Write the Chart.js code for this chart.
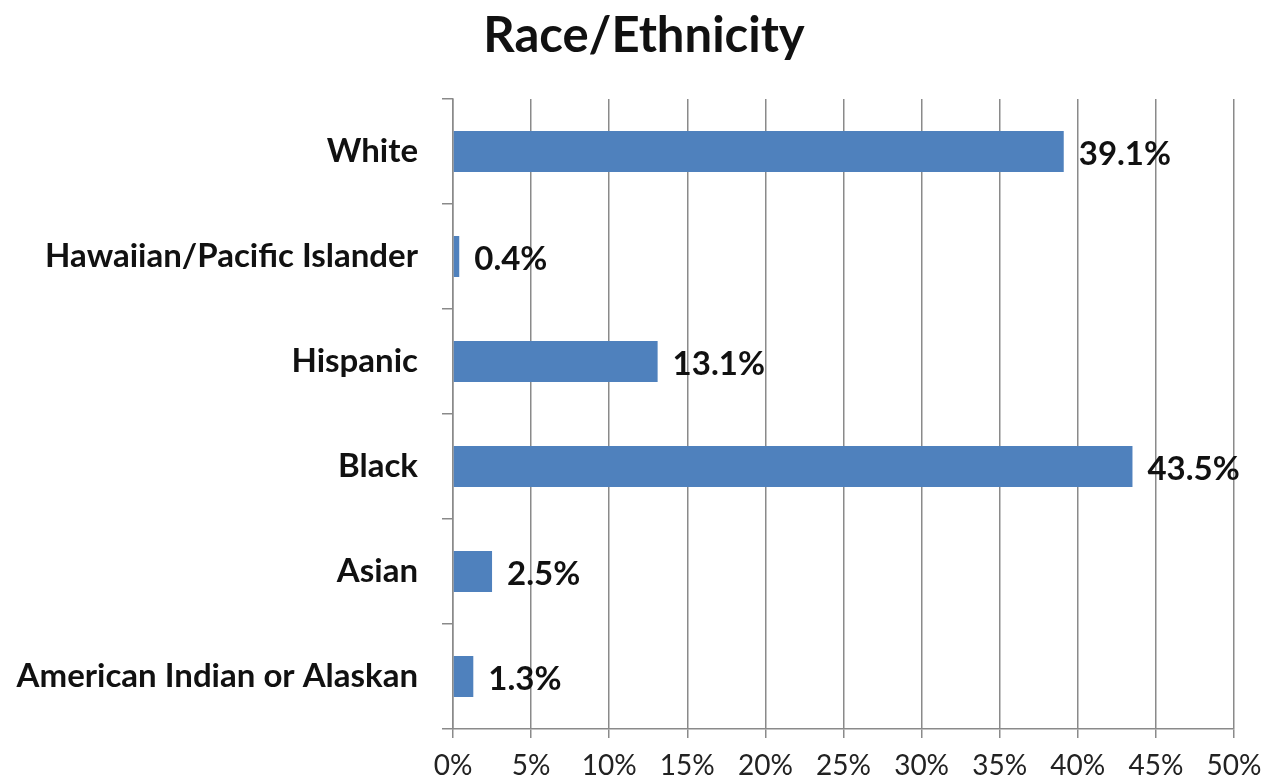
<!DOCTYPE html>
<html>
<head>
<meta charset="utf-8">
<script src="https://cdn.jsdelivr.net/npm/chart.js@4"></script>
<style>
  html, body { margin: 0; padding: 0; background: #fff; }
  #wrap { width: 1263px; height: 779px; }
</style>
</head>
<body>
<div id="wrap"><canvas id="chart" width="1263" height="779"></canvas></div>
<script>
// ===== Data =====
const chartTitle = "Race/Ethnicity";
const categories = ["White", "Hawaiian/Pacific Islander", "Hispanic", "Black", "Asian", "American Indian or Alaskan"];
const percentages = [39.1, 0.4, 13.1, 43.5, 2.5, 1.3];
const tickLabels = ["0%", "5%", "10%", "15%", "20%", "25%", "30%", "35%", "40%", "45%", "50%"];

const FONT = "Lato, 'Open Sans', sans-serif";
const GRID = "#8a8a8a";

// ===== Title, centred a little right of the canvas middle =====
const titleText = {
    id: "titleText",
    afterDraw(chart) {
        const ctx = chart.ctx;
        ctx.save();
        ctx.font = "bold 49px " + FONT;
        ctx.fillStyle = "#111";
        ctx.textAlign = "center";
        ctx.textBaseline = "middle";
        ctx.fillText(chartTitle, 644, 36);
        ctx.restore();
    }
};

// ===== Value labels at the end of each bar =====
const valueLabels = {
    id: "valueLabels",
    afterDatasetsDraw(chart) {
        const ctx = chart.ctx;
        const meta = chart.getDatasetMeta(0);
        ctx.save();
        ctx.font = "bold 33px " + FONT;
        ctx.fillStyle = "#111";
        ctx.textAlign = "left";
        ctx.textBaseline = "middle";
        meta.data.forEach(function(bar, i) {
            ctx.fillText(percentages[i].toFixed(1) + "%", bar.x + 15, bar.y + 3);
        });
        ctx.restore();
    }
};

new Chart(document.getElementById("chart"), {
    type: "bar",
    data: {
        labels: categories,
        datasets: [{
            data: percentages,
            backgroundColor: "#4f81bd",
            borderWidth: 0,
            barPercentage: 0.39,
            categoryPercentage: 1.0,
        }],
    },
    options: {
        indexAxis: "y",
        responsive: false,
        animation: false,
        layout: { padding: { left: 0, right: 29, top: 99, bottom: 0 } },
        plugins: {
            legend: { display: false },
            tooltip: { enabled: false },
            title: { display: false },
        },
        scales: {
            x: {
                min: 0,
                max: 50,
                ticks: {
                    stepSize: 5,
                    color: "#222",
                    padding: 11,
                    font: { family: FONT, size: 28 },
                    callback: function(v, i) { return tickLabels[i]; },
                },
                grid: { color: GRID, lineWidth: 1.5, tickLength: 9 },
                border: { color: GRID, width: 1.5 },
                afterFit: function(s) { s.height = 50; s.paddingLeft = 0; s.paddingRight = 0; },
            },
            y: {
                ticks: {
                    color: "#111",
                    padding: 24,
                    font: { family: FONT, size: 33, weight: "bold" },
                },
                grid: { offset: true, drawOnChartArea: false, color: GRID, lineWidth: 1.5, tickLength: 11 },
                border: { color: GRID, width: 1.5 },
                afterFit: function(s) { s.width = 453; s.paddingTop = 0; s.paddingBottom = 0; },
            },
        },
    },
    plugins: [valueLabels, titleText],
});
</script>
</body>
</html>
